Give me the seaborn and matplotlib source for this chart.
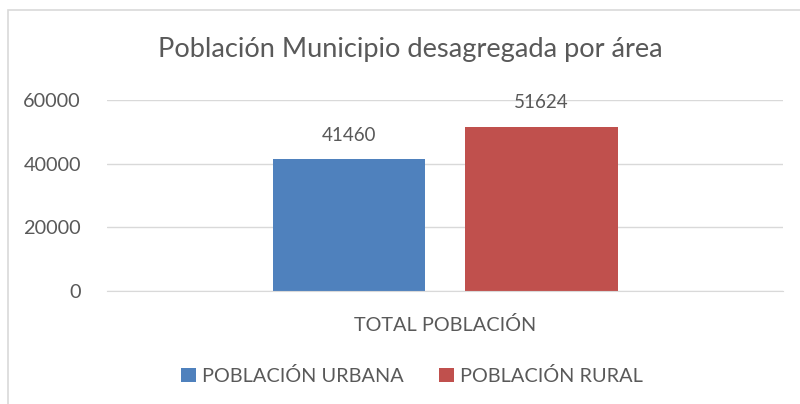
import pandas as pd
import matplotlib.pyplot as plt
import matplotlib.patches as mpatches
import seaborn as sns

# Data
categorias = ["TOTAL POBLACIÓN"]
series = ["POBLACIÓN URBANA", "POBLACIÓN RURAL"]
valores = [41460, 51624]
colores = ["#4F81BD", "#C0504D"]

df = pd.DataFrame({
    "Categoria": categorias * len(series),
    "Serie": series,
    "Valor": valores,
})

sns.set_style("white")
plt.rcParams["font.family"] = ["Lato", "DejaVu Sans"]

texto = "#595959"

fig = plt.figure(figsize=(8, 4.04), dpi=100)
ax = fig.add_axes([0.134, 0.2797, 0.845, 0.4728])

sns.barplot(
    data=df,
    x="Categoria",
    y="Valor",
    hue="Serie",
    palette=colores,
    saturation=1,
    width=0.57,
    gap=0.21,
    linewidth=0,
    ax=ax,
)

ax.set_ylim(0, 60000)
ax.set_xlim(-0.5, 0.5)
ax.set_yticks([0, 20000, 40000, 60000])
ax.set_yticklabels(["0", "20000", "40000", "60000"])
ax.yaxis.grid(True, color="#D9D9D9", linewidth=1)
ax.set_axisbelow(True)
for s in ["top", "right", "left"]:
    ax.spines[s].set_visible(False)
ax.spines["bottom"].set_color("#D9D9D9")
ax.tick_params(axis="both", length=0, labelsize=14.3, colors=texto)
ax.tick_params(axis="y", pad=19)
ax.tick_params(axis="x", pad=18)
ax.set_xlabel("")
ax.set_ylabel("")

for cont in ax.containers:
    ax.bar_label(cont, padding=11, fontsize=13.5, color=texto)

# title and legend are centred on the whole chart area, not the plot area
fig.text(410 / 800, 1 - 50 / 404, "Población Municipio desagregada por área",
         fontsize=19.6, color=texto, ha="center", va="center")

handles, labels = ax.get_legend_handles_labels()
ax.legend_.remove()
fig.legend(
    handles, labels,
    loc="center",
    bbox_to_anchor=(412 / 800, 1 - 376 / 404),
    ncol=2,
    frameon=False,
    fontsize=14.3,
    labelcolor=texto,
    handlelength=0.75,
    handleheight=0.75,
    handletextpad=0.3,
    columnspacing=1.8,
)

# Chart border
fig.patches.append(mpatches.Rectangle(
    (8 / 800, -0.1), 1.2, 1 - 10 / 404 + 0.1,
    transform=fig.transFigure, fill=False,
    edgecolor="#D9D9D9", linewidth=1.2,
))

fig.savefig("out.png", dpi=100)
plt.close()
